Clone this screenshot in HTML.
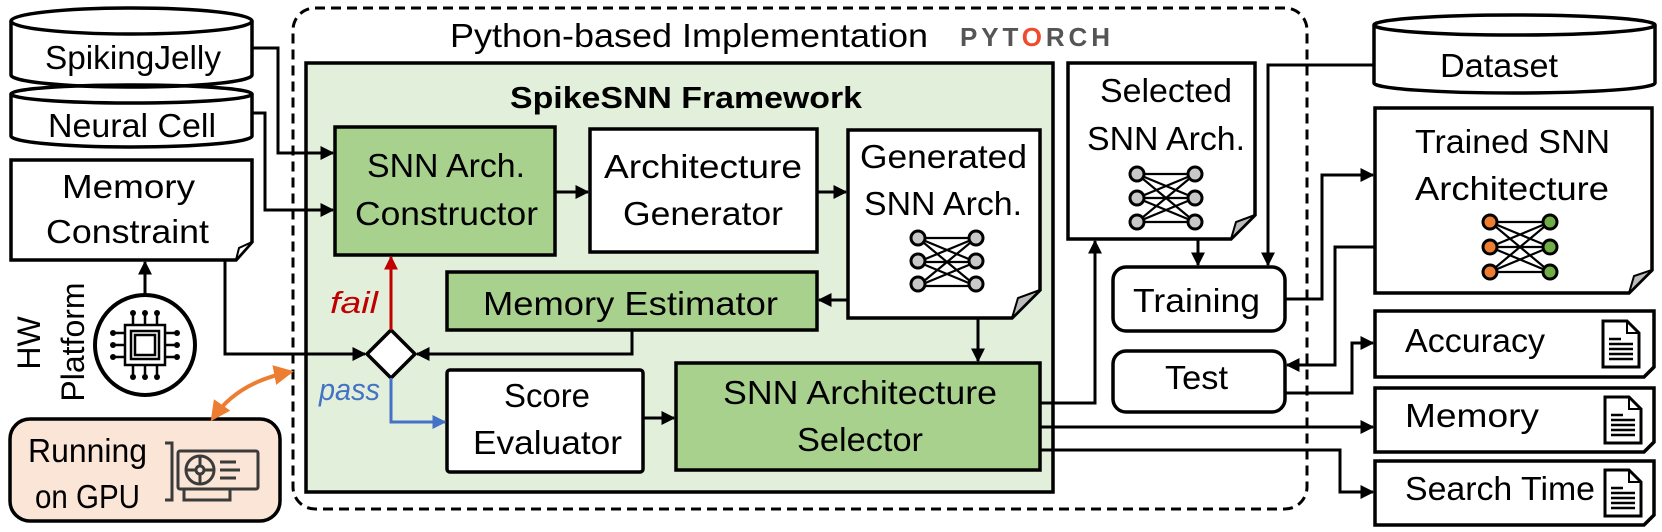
<!DOCTYPE html>
<html><head><meta charset="utf-8"><style>
html,body{margin:0;padding:0;background:#fff;width:1662px;height:532px;overflow:hidden}
svg{display:block}
text{font-family:"Liberation Sans",sans-serif;fill:#000}
</style></head><body>
<svg width="1662" height="532" viewBox="0 0 1662 532" xmlns="http://www.w3.org/2000/svg">
<defs>
<marker id="a" viewBox="0 0 10 10" refX="9" refY="5" markerWidth="14" markerHeight="14" markerUnits="userSpaceOnUse" orient="auto"><path d="M0,0 L10,5 L0,10 z" fill="#000"/></marker>
<marker id="ar" viewBox="0 0 10 10" refX="9" refY="5" markerWidth="14" markerHeight="14" markerUnits="userSpaceOnUse" orient="auto"><path d="M0,0 L10,5 L0,10 z" fill="#c00000"/></marker>
<marker id="ab" viewBox="0 0 10 10" refX="9" refY="5" markerWidth="14" markerHeight="14" markerUnits="userSpaceOnUse" orient="auto"><path d="M0,0 L10,5 L0,10 z" fill="#4472c4"/></marker>
<marker id="ao" viewBox="0 0 10 10" refX="8" refY="5" markerWidth="20" markerHeight="20" markerUnits="userSpaceOnUse" orient="auto-start-reverse"><path d="M0,0 L10,5 L0,10 z" fill="#ed7d31"/></marker>
<g id="net">
 <g stroke="#000" stroke-width="2.2" fill="none">
  <path d="M0,0 L58,0 M0,0 L58,24 M0,0 L58,48 M0,24 L58,0 M0,24 L58,24 M0,24 L58,48 M0,48 L58,0 M0,48 L58,24 M0,48 L58,48"/>
 </g>
</g>
<g id="page">
 <path d="M0,0 H24 L36,12 V46 H0 Z" fill="#fff" stroke="#000" stroke-width="3"/>
 <path d="M24,0 V12 H36" fill="none" stroke="#000" stroke-width="2"/>
 <g stroke="#000" stroke-width="2.5"><path d="M6,18 H18 M6,23 H30 M6,28 H30 M6,33 H30 M6,38 H30"/></g>
</g>
</defs>

<rect x="293" y="8" width="1014" height="501" rx="22" fill="none" stroke="#000" stroke-width="3" stroke-dasharray="10 6"/>
<text x="450" y="47" font-size="33" textLength="478" lengthAdjust="spacingAndGlyphs">Python-based Implementation</text>
<text x="960" y="46" font-size="26" font-weight="bold" textLength="150" lengthAdjust="spacing" style="fill:#555">PYT<tspan style="fill:#ee4c2c">O</tspan>RCH</text>

<rect x="306" y="63" width="747" height="429" fill="#e2efda" stroke="#000" stroke-width="3.5"/>
<text x="510" y="108" font-size="31" font-weight="bold" textLength="352" lengthAdjust="spacingAndGlyphs">SpikeSNN Framework</text>

<rect x="335" y="127" width="220" height="128" fill="#a9d18e" stroke="#000" stroke-width="3.5"/>
<text x="367" y="177" font-size="33" textLength="158" lengthAdjust="spacingAndGlyphs">SNN Arch.</text>
<text x="355" y="225" font-size="33" textLength="183" lengthAdjust="spacingAndGlyphs">Constructor</text>

<rect x="590" y="129" width="227" height="123" fill="#fff" stroke="#000" stroke-width="3.5"/>
<text x="604" y="178" font-size="33" textLength="198" lengthAdjust="spacingAndGlyphs">Architecture</text>
<text x="623" y="225" font-size="33" textLength="160" lengthAdjust="spacingAndGlyphs">Generator</text>

<path d="M848,130 H1040 V290 L1012,318 H848 Z" fill="#fff" stroke="#000" stroke-width="3.5"/>
<path d="M1012,318 L1018,298 L1040,290 Z" fill="#bbb" stroke="#000" stroke-width="2"/>
<text x="860" y="168" font-size="33" textLength="167" lengthAdjust="spacingAndGlyphs">Generated</text>
<text x="864" y="215" font-size="33" textLength="158" lengthAdjust="spacingAndGlyphs">SNN Arch.</text>
<use href="#net" x="918" y="238"/>
<g fill="#c8c8c8" stroke="#000" stroke-width="3"><circle cx="918" cy="238" r="7"/><circle cx="918" cy="261" r="7"/><circle cx="918" cy="284" r="7"/><circle cx="976" cy="238" r="7"/><circle cx="976" cy="261" r="7"/><circle cx="976" cy="284" r="7"/></g>

<rect x="447" y="272" width="370" height="58" fill="#a9d18e" stroke="#000" stroke-width="3.5"/>
<text x="483" y="315" font-size="33" textLength="295" lengthAdjust="spacingAndGlyphs">Memory Estimator</text>

<path d="M391,330 L415,354 L391,378 L367,354 Z" fill="#fff" stroke="#000" stroke-width="3.5"/>
<text x="330" y="313" font-size="31" font-style="italic" style="fill:#c00000" textLength="48" lengthAdjust="spacingAndGlyphs">fail</text>
<text x="319" y="400" font-size="31" font-style="italic" style="fill:#4472c4" textLength="61" lengthAdjust="spacingAndGlyphs">pass</text>

<rect x="447" y="370" width="196" height="102" rx="3" fill="#fff" stroke="#000" stroke-width="3.5"/>
<text x="504" y="407" font-size="33" textLength="86" lengthAdjust="spacingAndGlyphs">Score</text>
<text x="473" y="454" font-size="33" textLength="149" lengthAdjust="spacingAndGlyphs">Evaluator</text>

<rect x="676" y="363" width="364" height="107" fill="#a9d18e" stroke="#000" stroke-width="3.5"/>
<text x="723" y="404" font-size="33" textLength="274" lengthAdjust="spacingAndGlyphs">SNN Architecture</text>
<text x="797" y="451" font-size="33" textLength="126" lengthAdjust="spacingAndGlyphs">Selector</text>

<path d="M1068,63 H1255 V215 L1231,239 H1068 Z" fill="#fff" stroke="#000" stroke-width="3.5"/>
<path d="M1231,239 L1236,222 L1255,215 Z" fill="#bbb" stroke="#000" stroke-width="2"/>
<text x="1100" y="102" font-size="33" textLength="132" lengthAdjust="spacingAndGlyphs">Selected</text>
<text x="1087" y="150" font-size="33" textLength="158" lengthAdjust="spacingAndGlyphs">SNN Arch.</text>
<use href="#net" x="1137" y="174"/>
<g fill="#c8c8c8" stroke="#000" stroke-width="3"><circle cx="1137" cy="174" r="7"/><circle cx="1137" cy="198" r="7"/><circle cx="1137" cy="222" r="7"/><circle cx="1195" cy="174" r="7"/><circle cx="1195" cy="198" r="7"/><circle cx="1195" cy="222" r="7"/></g>

<rect x="1113" y="267" width="172" height="64" rx="13" fill="#fff" stroke="#000" stroke-width="3.5"/>
<text x="1133" y="312" font-size="33" textLength="127" lengthAdjust="spacingAndGlyphs">Training</text>
<rect x="1113" y="351" width="172" height="61" rx="13" fill="#fff" stroke="#000" stroke-width="3.5"/>
<text x="1165" y="389" font-size="33" textLength="63" lengthAdjust="spacingAndGlyphs">Test</text>

<path d="M1374,25 V83 A140.5,10 0 0 0 1655,83 V25" fill="#fff" stroke="#000" stroke-width="3.5"/>
<ellipse cx="1514.5" cy="25" rx="140.5" ry="10" fill="#fff" stroke="#000" stroke-width="3.5"/>
<text x="1440" y="77" font-size="33" textLength="118" lengthAdjust="spacingAndGlyphs">Dataset</text>

<path d="M1375,108 H1652 V270 L1629,293 H1375 Z" fill="#fff" stroke="#000" stroke-width="3.5"/>
<path d="M1629,293 L1634,276 L1652,270 Z" fill="#bbb" stroke="#000" stroke-width="2"/>
<text x="1415" y="153" font-size="33" textLength="195" lengthAdjust="spacingAndGlyphs">Trained SNN</text>
<text x="1415" y="200" font-size="33" textLength="194" lengthAdjust="spacingAndGlyphs">Architecture</text>
<g stroke="#000" stroke-width="2.2" fill="none"><path d="M1490,222 L1550,222 M1490,222 L1550,247 M1490,222 L1550,272 M1490,247 L1550,222 M1490,247 L1550,247 M1490,247 L1550,272 M1490,272 L1550,222 M1490,272 L1550,247 M1490,272 L1550,272"/></g>
<g stroke="#000" stroke-width="3"><circle cx="1490" cy="222" r="7" fill="#ed7d31"/><circle cx="1490" cy="247" r="7" fill="#ed7d31"/><circle cx="1490" cy="272" r="7" fill="#ed7d31"/><circle cx="1550" cy="222" r="7" fill="#70ad47"/><circle cx="1550" cy="247" r="7" fill="#70ad47"/><circle cx="1550" cy="272" r="7" fill="#70ad47"/></g>

<path d="M1375,311 H1654 V367 L1644,377 H1375 Z" fill="#fff" stroke="#000" stroke-width="3.5"/>
<text x="1405" y="352" font-size="33" textLength="140" lengthAdjust="spacingAndGlyphs">Accuracy</text>
<use href="#page" x="1603" y="321"/>
<path d="M1375,388 H1654 V442 L1644,452 H1375 Z" fill="#fff" stroke="#000" stroke-width="3.5"/>
<text x="1405" y="427" font-size="33" textLength="134" lengthAdjust="spacingAndGlyphs">Memory</text>
<use href="#page" x="1605" y="397"/>
<path d="M1375,461 H1654 V515 L1644,525 H1375 Z" fill="#fff" stroke="#000" stroke-width="3.5"/>
<text x="1405" y="500" font-size="33" textLength="190" lengthAdjust="spacingAndGlyphs">Search Time</text>
<use href="#page" x="1605" y="470"/>

<path d="M11,21 V75 A120.5,12 0 0 0 252,75 V21" fill="#fff" stroke="#000" stroke-width="3.5"/>
<ellipse cx="131.5" cy="21" rx="120.5" ry="13" fill="#fff" stroke="#000" stroke-width="3.5"/>
<text x="45" y="69" font-size="33" textLength="176" lengthAdjust="spacingAndGlyphs">SpikingJelly</text>
<path d="M11,94 V136 A120.5,11 0 0 0 252,136 V94" fill="#fff" stroke="#000" stroke-width="3.5"/>
<path d="M11,94 A120.5,9 0 0 1 252,94" fill="none" stroke="#000" stroke-width="3.5"/>
<path d="M11,94 A120.5,9 0 0 0 252,94" fill="none" stroke="#000" stroke-width="3.5"/>
<text x="48" y="137" font-size="33" textLength="168" lengthAdjust="spacingAndGlyphs">Neural Cell</text>

<path d="M11,160 H252 V242 L236,260 H11 Z" fill="#fff" stroke="#000" stroke-width="3.5"/>
<path d="M236,260 L239,248 L252,242 Z" fill="#fff" stroke="#000" stroke-width="2"/>
<text x="62" y="198" font-size="33" textLength="133" lengthAdjust="spacingAndGlyphs">Memory</text>
<text x="46" y="243" font-size="33" textLength="163" lengthAdjust="spacingAndGlyphs">Constraint</text>

<text transform="translate(40,343) rotate(-90)" text-anchor="middle" font-size="32">HW</text>
<text transform="translate(84,342) rotate(-90)" text-anchor="middle" font-size="32">Platform</text>

<circle cx="145" cy="345" r="50" fill="#fff" stroke="#000" stroke-width="4"/>
<g stroke="#000" stroke-width="2.5" fill="none">
 <rect x="125" y="325" width="40" height="40"/>
 <rect x="131" y="331" width="28" height="28"/>
 <rect x="135" y="335" width="20" height="20"/>
 <path d="M133,325 V315 M145,325 V315 M157,325 V315 M133,365 V375 M145,365 V375 M157,365 V375 M125,333 H115 M125,345 H115 M125,357 H115 M165,333 H175 M165,345 H175 M165,357 H175"/>
</g>
<g fill="#000"><circle cx="133" cy="313" r="3"/><circle cx="145" cy="313" r="3"/><circle cx="157" cy="313" r="3"/><circle cx="133" cy="377" r="3"/><circle cx="145" cy="377" r="3"/><circle cx="157" cy="377" r="3"/><circle cx="113" cy="333" r="3"/><circle cx="113" cy="345" r="3"/><circle cx="113" cy="357" r="3"/><circle cx="177" cy="333" r="3"/><circle cx="177" cy="345" r="3"/><circle cx="177" cy="357" r="3"/></g>

<rect x="10" y="419" width="270" height="102" rx="20" fill="#fbe5d6" stroke="#000" stroke-width="3.5"/>
<text x="28" y="462" font-size="33" textLength="119" lengthAdjust="spacingAndGlyphs">Running</text>
<text x="35" y="508" font-size="33" textLength="105" lengthAdjust="spacingAndGlyphs">on GPU</text>
<g stroke="#3b3b3b" stroke-width="3" fill="none">
 <path d="M165,443 H172 V500 H165"/>
 <rect x="178" y="451" width="80" height="38" rx="2"/>
 <circle cx="200" cy="470" r="14"/>
 <circle cx="200" cy="470" r="4"/>
 <path d="M200,456 V466 M200,474 V484 M186,470 H196 M204,470 H214"/>
 <path d="M220,462 H236 M220,470 H240 M220,478 H236 M184,489 V500 H230 V489"/>
</g>

<path d="M213,418 Q238,382 290,372" fill="none" stroke="#ed7d31" stroke-width="4" marker-start="url(#ao)" marker-end="url(#ao)"/>

<g fill="none" stroke="#000" stroke-width="3">
 <path d="M252,48 H278 V153 H333" marker-end="url(#a)"/>
 <path d="M252,113 H265 V210 H333" marker-end="url(#a)"/>
 <path d="M225,260 V354 H365" marker-end="url(#a)"/>
 <path d="M145,295 V262" marker-end="url(#a)"/>
 <path d="M555,192 H588" marker-end="url(#a)"/>
 <path d="M817,192 H846" marker-end="url(#a)"/>
 <path d="M848,300 H819" marker-end="url(#a)"/>
 <path d="M632,330 V354 H417" marker-end="url(#a)"/>
 <path d="M643,418 H674" marker-end="url(#a)"/>
 <path d="M978,318 V361" marker-end="url(#a)"/>
 <path d="M1040,403 H1095 V241" marker-end="url(#a)"/>
 <path d="M1198,239 V265" marker-end="url(#a)"/>
 <path d="M1374,65 H1268 V265" marker-end="url(#a)"/>
 <path d="M1285,299 H1322 V175 H1373" marker-end="url(#a)"/>
 <path d="M1375,247 H1335 V365 H1287" marker-end="url(#a)"/>
 <path d="M1285,393 H1352 V343 H1373" marker-end="url(#a)"/>
 <path d="M1040,427 H1373" marker-end="url(#a)"/>
 <path d="M1040,450 H1340 V492 H1373" marker-end="url(#a)"/>
</g>
<path d="M391,330 V257" fill="none" stroke="#c00000" stroke-width="3" marker-end="url(#ar)"/>
<path d="M391,378 V422 H445" fill="none" stroke="#4472c4" stroke-width="3" marker-end="url(#ab)"/>
</svg>
</body></html>
